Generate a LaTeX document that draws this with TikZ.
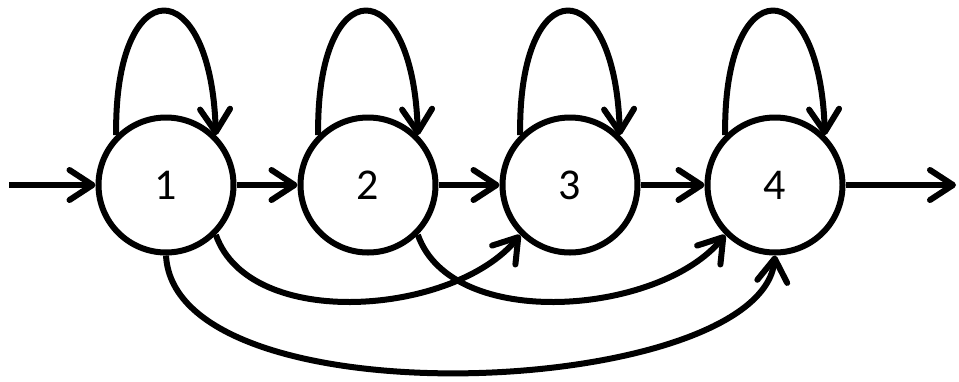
\documentclass[tikz,border=0pt]{standalone}
\usepackage{fontspec}
\setmainfont{Carlito}
\usetikzlibrary{arrows.meta}
\begin{document}
\begin{tikzpicture}[x=1pt,y=-1pt,line width=6pt,
  state/.style={circle,draw,minimum size=135pt,inner sep=0pt,font=\fontsize{44}{44}\selectfont},
  arr/.style={-{Straight Barb[length=23pt,width=30pt,round]}}]
\useasboundingbox (0,0) rectangle (959,381);
\node[state] (n1) at (166,185) {1};
\node[state] (n2) at (368,185) {2};
\node[state] (n3) at (570,185) {3};
\node[state] (n4) at (775,185) {4};
\coordinate (in) at (9,185);
\coordinate (out) at (956,185);
\draw[arr] (in) -- (n1.west);
\draw[arr] (n1.east) -- (n2.west);
\draw[arr] (n2.east) -- (n3.west);
\draw[arr] (n3.east) -- (n4.west);
\draw[arr] (n4.east) -- (out);
\foreach \n/\c in {n1/166,n2/368,n3/570,n4/775}{
  \draw[arr] (\n.135) .. controls ({\c-52},-30) and ({\c+45},-30) .. (\n.45);
}
\draw[arr] (n1.-45) .. controls (250,332) and (455,315) .. (n3.-135);
\draw[arr] (n2.-45) .. controls (452,332) and (660,315) .. (n4.-135);
\draw[arr] (n1.south) .. controls (175,425) and (760,398) .. (n4.south);
\end{tikzpicture}
\end{document}
